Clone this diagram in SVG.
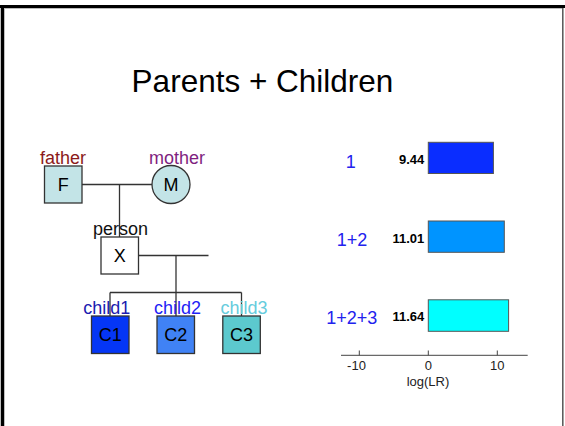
<svg xmlns="http://www.w3.org/2000/svg" width="565" height="426" viewBox="0 0 565 426">
  <style>
    text { font-family: "Liberation Sans", Arial, sans-serif; }
    .node { stroke: #333; stroke-width: 1.3; }
    .lbl { font-size: 18px; text-anchor: middle; }
    .wire { stroke: #333; stroke-width: 1.3; fill: none; }
    .bar { stroke: #555; stroke-width: 1; }
    .val { font-size: 13px; font-weight: bold; text-anchor: end; fill: #000; }
    .row { font-size: 18px; text-anchor: middle; fill: #2222ee; }
    .tick { font-size: 13px; text-anchor: middle; fill: #222; }
  </style>

  <!-- slide background and frame -->
  <rect x="0" y="0" width="565" height="426" fill="#fff"/>
  <line x1="2.5" y1="5" x2="2.5" y2="426" stroke="#000" stroke-width="3.5"/>
  <line x1="0" y1="6.5" x2="565" y2="6.5" stroke="#000" stroke-width="3"/>
  <line x1="4" y1="8.5" x2="562" y2="8.5" stroke="#bbb" stroke-width="1"/>
  <line x1="562.8" y1="8" x2="562.8" y2="426" stroke="#555" stroke-width="1.5"/>

  <text x="262.5" y="91.5" font-size="31.5" text-anchor="middle" fill="#000">Parents + Children</text>

  <!-- pedigree connectors -->
  <g id="connectors">
    <line class="wire" x1="82" y1="184.5" x2="152" y2="184.5"/>
    <line class="wire" x1="119.5" y1="184.5" x2="119.5" y2="237"/>
    <line class="wire" x1="138" y1="255.5" x2="208.5" y2="255.5"/>
    <line class="wire" x1="176" y1="255.5" x2="176" y2="292.5"/>
    <line class="wire" x1="110" y1="292.5" x2="241.5" y2="292.5"/>
    <line class="wire" x1="110" y1="292.5" x2="110" y2="316"/>
    <line class="wire" x1="176" y1="292.5" x2="176" y2="316"/>
    <line class="wire" x1="241.5" y1="292.5" x2="241.5" y2="316"/>
  </g>

  <g id="father">
    <rect class="node" x="44.5" y="166" width="37.5" height="37" fill="#C3E4E7"/>
    <text class="lbl" x="63.2" y="191" fill="#000">F</text>
    <text class="lbl" x="63" y="163.5" fill="#8B1A1A">father</text>
  </g>

  <g id="mother">
    <circle class="node" cx="171" cy="184.5" r="19" fill="#C3E4E7"/>
    <text class="lbl" x="171" y="191" fill="#000">M</text>
    <text class="lbl" x="177" y="163.5" fill="#7F1F7F">mother</text>
  </g>

  <g id="person">
    <rect class="node" x="101" y="237" width="37.5" height="37" fill="#fff"/>
    <text class="lbl" x="119.8" y="262" fill="#000">X</text>
    <text class="lbl" x="120.5" y="234.5" fill="#111">person</text>
  </g>

  <g id="child1">
    <rect class="node" x="91.5" y="316" width="37.5" height="37.5" fill="#0536F5"/>
    <text class="lbl" x="110.2" y="341" fill="#000">C1</text>
    <text class="lbl" x="106.7" y="313.5" fill="#1C1CB0">child1</text>
  </g>

  <g id="child2">
    <rect class="node" x="157" y="316" width="37.5" height="37.5" fill="#4082F5"/>
    <text class="lbl" x="175.8" y="341" fill="#000">C2</text>
    <text class="lbl" x="177.5" y="313.5" fill="#1F1FF5">child2</text>
  </g>

  <g id="child3">
    <rect class="node" x="222.8" y="316" width="37.5" height="37.5" fill="#5CC9CE"/>
    <text class="lbl" x="241.5" y="341" fill="#000">C3</text>
    <text class="lbl" x="244" y="313.5" fill="#66CCDD">child3</text>
  </g>

  <!-- log likelihood ratio bar chart -->
  <g id="chart">
    <text class="row" x="350.7" y="168">1</text>
    <text class="row" x="352" y="245.5">1+2</text>
    <text class="row" x="351.7" y="323.5">1+2+3</text>

    <rect class="bar" x="428.3" y="142.3" width="65.1" height="31.2" fill="#0A2DFF"/>
    <rect class="bar" x="428.3" y="221" width="76" height="31.3" fill="#0094FF"/>
    <rect class="bar" x="428.3" y="299.8" width="80.3" height="31.5" fill="#00FFFF"/>

    <text class="val" x="424.3" y="164">9.44</text>
    <text class="val" x="424.3" y="242.5">11.01</text>
    <text class="val" x="424.3" y="321">11.64</text>

    <line x1="341" y1="355.3" x2="527.7" y2="355.3" stroke="#444" stroke-width="1"/>
    <line x1="359.3" y1="350.5" x2="359.3" y2="355.3" stroke="#444" stroke-width="1"/>
    <line x1="428.3" y1="350.5" x2="428.3" y2="355.3" stroke="#444" stroke-width="1"/>
    <line x1="497.3" y1="350.5" x2="497.3" y2="355.3" stroke="#444" stroke-width="1"/>
    <text class="tick" x="356.5" y="369.5">-10</text>
    <text class="tick" x="428.3" y="369.5">0</text>
    <text class="tick" x="497.3" y="369.5">10</text>
    <text class="tick" x="428" y="385.5">log(LR)</text>
  </g>
</svg>
